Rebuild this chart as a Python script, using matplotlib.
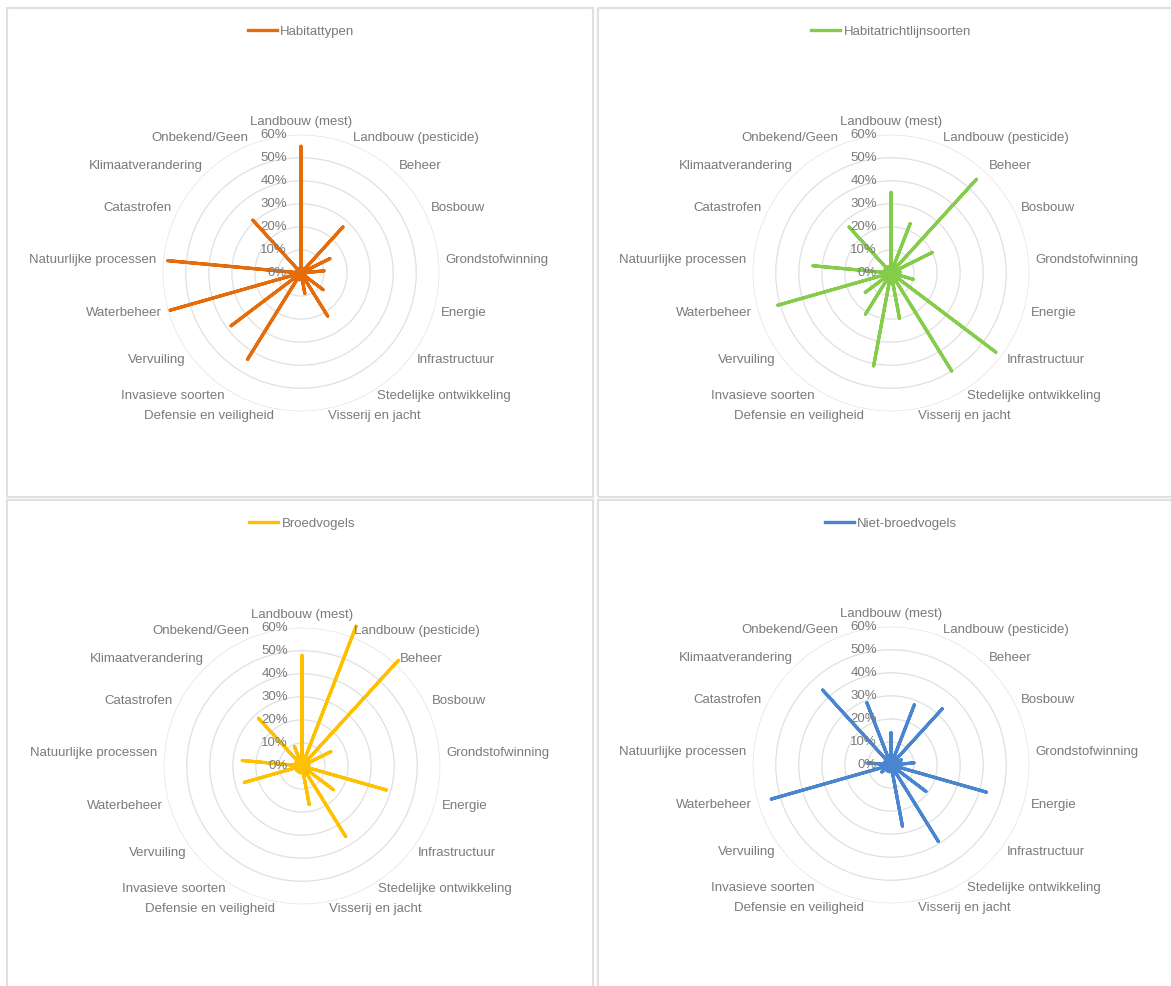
import matplotlib
matplotlib.use('Agg')

import matplotlib.pyplot as plt
from matplotlib.lines import Line2D
import matplotlib.transforms as mtransforms
import numpy as np

plt.rcParams['font.family'] = ['Liberation Sans', 'DejaVu Sans']

# Data (share of species/habitats per pressure, %)
categories = ['Landbouw (mest)', 'Landbouw (pesticide)', 'Beheer', 'Bosbouw',
              'Grondstofwinning', 'Energie', 'Infrastructuur',
              'Stedelijke ontwikkeling', 'Visserij en jacht',
              'Defensie en veiligheid', 'Invasieve soorten', 'Vervuiling',
              'Waterbeheer', 'Natuurlijke processen', 'Catastrofen',
              'Klimaatverandering', 'Onbekend/Geen']
habitattypen = [55, 2, 27, 14, 10, 2, 12, 22, 9, 3, 44, 38, 59, 58, 2, 31, 2]
habitatrichtlijnsoorten = [35, 23, 55, 20, 4, 10, 57, 50, 20, 41, 21, 14, 51, 34, 3, 27, 3]
broedvogels = [48, 65, 62, 14, 3, 38, 17, 36, 17, 3, 3, 3, 26, 26, 3, 28, 9]
niet_broedvogels = [14, 28, 33, 5, 10, 43, 19, 39, 27, 3, 3, 5, 54, 10, 3, 44, 29]
tick_values = [0, 10, 20, 30, 40, 50, 60]

# name, values, colour, chart centre (px), legend y (px)
panels = [
    ('Habitattypen', habitattypen, '#e46c0a', (301, 273), 32),
    ('Habitatrichtlijnsoorten', habitatrichtlijnsoorten, '#84cc4a', (891, 273), 32),
    ('Broedvogels', broedvogels, '#ffc000', (302, 766), 524),
    ('Niet-broedvogels', niet_broedvogels, '#4a86d0', (891, 765), 524),
]

W, H = 1171, 986
R = 138.3  # pixel radius of the 60% ring
text_col = '#7a7a7a'
grid_col = '#e0e0e0'
fs = 9.5

fig = plt.figure(figsize=(W / 100, H / 100), dpi=100)

# panel borders
for x0, x1, y0, y1 in [(7, 593, 8, 497), (598, 1180, 8, 497),
                       (7, 593, 500, 995), (598, 1180, 500, 995)]:
    fig.add_artist(plt.Rectangle((x0 / W, 1 - y1 / H), (x1 - x0) / W, (y1 - y0) / H,
                                 transform=fig.transFigure, fill=False,
                                 edgecolor=grid_col, lw=1.5))

n = len(categories)
angles = np.arange(n) * 2 * np.pi / n

for name, vals, col, (cx, cy), ly in panels:
    ax = fig.add_axes([(cx - R) / W, 1 - (cy + R) / H, 2 * R / W, 2 * R / H],
                      projection='polar')
    ax.set_theta_zero_location('N')
    ax.set_theta_direction(-1)
    ax.set_ylim(0, 60)
    ax.set_xticks([])
    ax.set_yticks(tick_values[1:])
    ax.set_yticklabels([])
    ax.grid(axis='y', color=grid_col, lw=0.9)
    ax.grid(axis='x', visible=False)
    ax.spines['polar'].set_visible(False)
    ax.patch.set_alpha(0)

    # spokes: center -> value -> center
    th = np.repeat(angles, 2)
    rr = np.ravel([[v, 0] for v in vals])
    ax.plot(np.r_[0, th], np.r_[0, rr], color=col, lw=2.3,
            solid_capstyle='round', solid_joinstyle='round', clip_on=False)

    # tick labels to the left of the top spoke
    off = mtransforms.offset_copy(ax.transData, fig=fig, x=-14, y=0, units='dots')
    for t in tick_values:
        ax.text(0, t, f'{t}%', transform=off, ha='right', va='center',
                fontsize=fs, color=text_col)

    # category labels
    for a, lab in zip(angles, categories):
        s = np.sin(a)
        if abs(s) < 0.05:
            ha, va = 'center', 'bottom'
        else:
            ha, va = ('left' if s > 0 else 'right'), 'center'
        ax.text(a, 62.9, lab, ha=ha, va=va, fontsize=fs, color=text_col,
                clip_on=False)

    # legend on top of each panel
    h = Line2D([0], [0], color=col, lw=2.4)
    ax.legend([h], [name], loc='center', bbox_to_anchor=(cx / W, 1 - ly / H),
              bbox_transform=fig.transFigure, frameon=False, fontsize=fs,
              labelcolor=text_col, handlelength=2.2, handletextpad=0.25)

fig.savefig('out.png', dpi=100, facecolor='white')
